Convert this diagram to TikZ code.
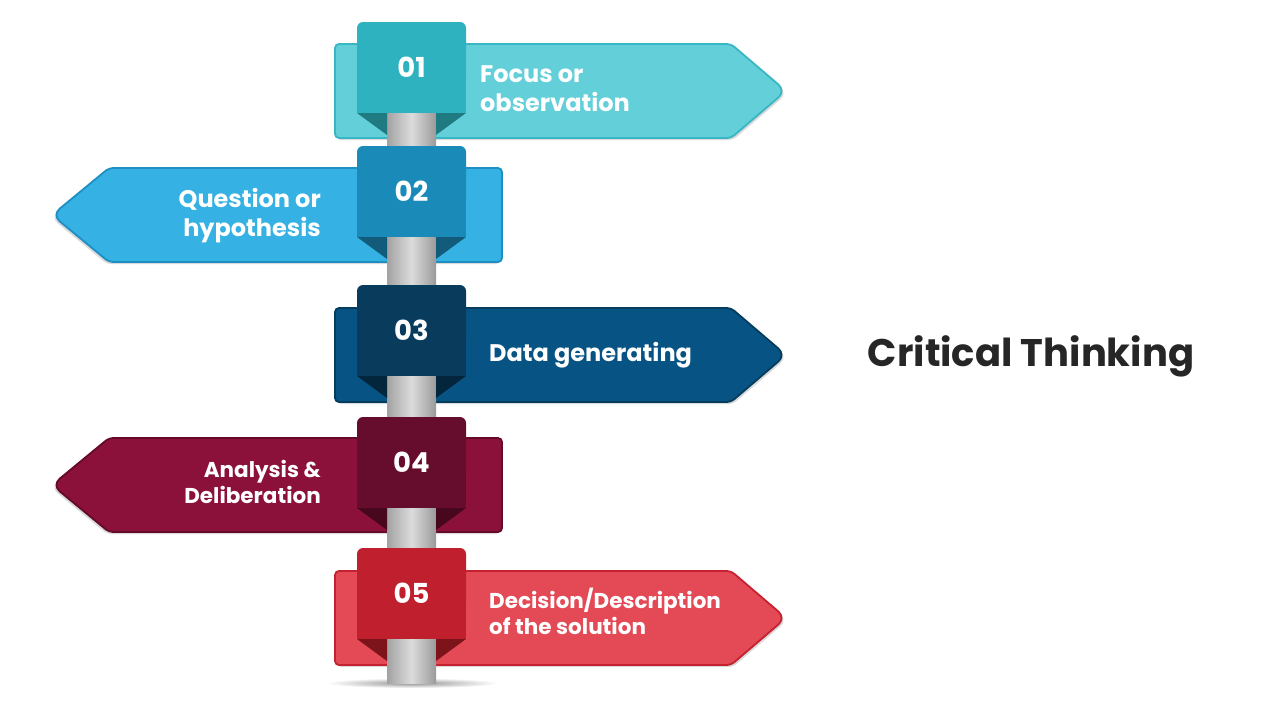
\documentclass[tikz,border=0pt]{standalone}
\usepackage{fontspec}
\setmainfont{Poppins}
\definecolor{sign1}{HTML}{63CFD9}
\definecolor{edge1}{HTML}{38B6C3}
\definecolor{box1}{HTML}{2FB2BF}
\definecolor{fold1}{HTML}{1F7A82}
\definecolor{sign2}{HTML}{35B1E3}
\definecolor{edge2}{HTML}{1D8FC2}
\definecolor{box2}{HTML}{1A8AB8}
\definecolor{fold2}{HTML}{125B7A}
\definecolor{sign3}{HTML}{075484}
\definecolor{edge3}{HTML}{043C5E}
\definecolor{box3}{HTML}{083B5C}
\definecolor{fold3}{HTML}{04263C}
\definecolor{sign4}{HTML}{8B113B}
\definecolor{edge4}{HTML}{650A28}
\definecolor{box4}{HTML}{660C2C}
\definecolor{fold4}{HTML}{47071D}
\definecolor{sign5}{HTML}{E34A56}
\definecolor{edge5}{HTML}{C52130}
\definecolor{box5}{HTML}{C01F2E}
\definecolor{fold5}{HTML}{7D131B}
\definecolor{poledark}{HTML}{A2A2A2}
\definecolor{polelight}{HTML}{DCDCDC}
\definecolor{titlegray}{HTML}{262626}

\begin{document}
\begin{tikzpicture}[x=1pt, y=-1pt,
  signtext/.style={font=\fontsize{24}{29}\selectfont\bfseries, text=white, inner sep=0, align=left},
  smalltext/.style={font=\fontsize{21.5}{26}\selectfont\bfseries, text=white, inner sep=0, align=left},
  numtext/.style={font=\fontsize{27.5}{30}\selectfont\bfseries, text=white, inner sep=0}]
\useasboundingbox (0,0) rectangle (1280,720);
%
\shade[inner color=gray!85, outer color=white] (412,683) ellipse [x radius=86, y radius=5];
%
\foreach \i/\st in {1/44, 3/308, 5/571} {
    \fill[black, opacity=0.15, shift={(2,2)}, rounded corners=4] (335,\st) -- (731,\st) [rounded corners=10] -- (786,\st+47) [rounded corners=4] -- (731,\st+94) -- (335,\st+94) -- cycle;
    \draw[edge\i, line width=1.8, fill=sign\i, rounded corners=4] (335,\st) -- (731,\st) [rounded corners=10] -- (786,\st+47) [rounded corners=4] -- (731,\st+94) -- (335,\st+94) -- cycle;
}
\foreach \i/\st in {2/168, 4/438} {
    \fill[black, opacity=0.15, shift={(-2,2)}, rounded corners=4] (502,\st) -- (109,\st) [rounded corners=10] -- (52,\st+47) [rounded corners=4] -- (109,\st+94) -- (502,\st+94) -- cycle;
    \draw[edge\i, line width=1.8, fill=sign\i, rounded corners=4] (502,\st) -- (109,\st) [rounded corners=10] -- (52,\st+47) [rounded corners=4] -- (109,\st+94) -- (502,\st+94) -- cycle;
}
%
\shade[left color=poledark, right color=poledark!95!black, middle color=polelight] (387,60) rectangle (436,683);
%
\foreach \i/\bt in {1/22, 2/146, 3/285, 4/417, 5/548} {
    \fill[fold\i] (357,\bt+91) -- (387,\bt+91) -- (387,\bt+113) -- cycle;
    \fill[fold\i] (466,\bt+91) -- (436,\bt+91) -- (436,\bt+113) -- cycle;
    \fill[box\i, rounded corners=6] (357,\bt) rectangle (466,\bt+60);
    \fill[box\i] (357,\bt+30) rectangle (466,\bt+91);
    \node[numtext] (num\i) at (411.5,\bt+45.5) {0\i};
}
%
\node[signtext, anchor=west] (txt1) at (480,89) {Focus or\\observation};
\node[signtext, anchor=east, align=right] (txt2) at (321,216) {Question or\\hypothesis};
\node[signtext, anchor=west] (txt3) at (489,355) {Data generating};
\node[smalltext, anchor=east, align=right] (txt4) at (321,482) {Analysis \&\\Deliberation};
\node[smalltext, anchor=west] (txt5) at (489,611) {Decision/Description\\of the solution};
%
\node[font=\fontsize{38.5}{42}\selectfont\bfseries, text=titlegray, inner sep=0] (title) at (1031,356) {Critical Thinking};
\end{tikzpicture}
\end{document}
